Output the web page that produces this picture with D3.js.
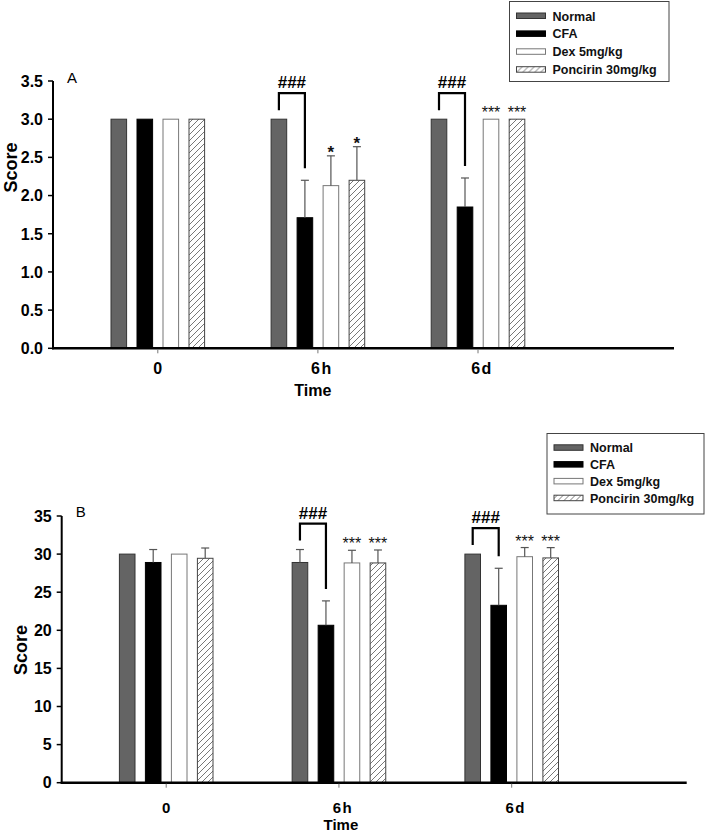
<!DOCTYPE html>
<html>
<head>
<meta charset="utf-8">
<script src="https://cdn.jsdelivr.net/npm/d3@7"></script>
<style>
  html, body { margin: 0; padding: 0; background: #fff; }
  svg { display: block; font-family: "Liberation Sans", Arial, sans-serif; }
</style>
</head>
<body>
<svg id="chart" width="709" height="832"></svg>
<script>
// ---------- data ----------
const categories = ["0", "6h", "6d"];
const series = ["Normal", "CFA", "Dex 5mg/kg", "Poncirin 30mg/kg"];

// Panel A
const aTicks = [0, 0.5, 1.0, 1.5, 2.0, 2.5, 3.0, 3.5];
const aNormal = [3.0, 3.0, 3.0];
const aCFA = [3.0, 1.71, 1.85];
const aDex = [3.0, 2.13, 3.0];
const aPon = [3.0, 2.20, 3.0];
const aNormalErr = [0, 0, 0];
const aCFAErr = [0, 0.49, 0.38];
const aDexErr = [0, 0.39, 0];
const aPonErr = [0, 0.44, 0];
const aStarsDex = ["", "*", "***"];
const aStarsPon = ["", "*", "***"];
const aHash = ["", "###", "###"];

// Panel B
const bTicks = [0, 5, 10, 15, 20, 25, 30, 35];
const bNormal = [30.0, 28.9, 30.0];
const bCFA = [28.9, 20.66, 23.28];
const bDex = [30.0, 28.84, 29.66];
const bPon = [29.45, 28.84, 29.5];
const bNormalErr = [0, 1.7, 0];
const bCFAErr = [1.7, 3.2, 4.86];
const bDexErr = [0, 1.66, 1.2];
const bPonErr = [1.35, 1.7, 1.35];
const bStarsDex = ["", "***", "***"];
const bStarsPon = ["", "***", "***"];
const bHash = ["", "###", "###"];

// ---------- styles ----------
const svg = d3.select("#chart");
const defs = svg.append("defs");
const pat = defs.append("pattern").attr("id", "hatch")
  .attr("patternUnits", "userSpaceOnUse").attr("width", 6).attr("height", 6);
pat.append("rect").attr("width", 6).attr("height", 6).attr("fill", "#fff");
pat.append("path").attr("d", "M-1,1 L1,-1 M0,6 L6,0 M5,7 L7,5")
  .attr("stroke", "#555").attr("stroke-width", 0.8);

const fills = ["#646464", "#000000", "#ffffff", "url(#hatch)"];
const strokes = ["#333333", "#000000", "#777777", "#444444"];

function drawPanel(p) {
  const g = svg.append("g");
  const y = d3.scaleLinear().domain([0, p.yMax]).range([p.y0, p.y1]);
  const x = d3.scalePoint().domain(categories).range([p.c0, p.c2]);
  const inner = d3.scaleBand().domain(series).range([-52, 52])
    .paddingInner(0.4).paddingOuter(0.2);
  const bw = inner.bandwidth();

  const rows = [];
  series.forEach((s, si) => {
    categories.forEach((c, ci) => {
      rows.push({s, si, c, ci, v: p.vals[si][ci], e: p.errs[si][ci]});
    });
  });

  // bars
  g.selectAll("rect.bar").data(rows).enter().append("rect")
    .attr("class", "bar")
    .attr("x", d => x(d.c) + inner(d.s))
    .attr("y", d => y(d.v))
    .attr("width", bw)
    .attr("height", d => y(0) - y(d.v))
    .attr("fill", d => fills[d.si])
    .attr("stroke", d => strokes[d.si])
    .attr("stroke-width", 1);

  // error bars (upper only)
  const er = rows.filter(d => d.e > 0);
  const eg = g.selectAll("g.err").data(er).enter().append("g")
    .attr("stroke", "#555").attr("stroke-width", 1.2);
  eg.append("line")
    .attr("x1", d => x(d.c) + inner(d.s) + bw / 2)
    .attr("x2", d => x(d.c) + inner(d.s) + bw / 2)
    .attr("y1", d => y(d.v)).attr("y2", d => y(d.v + d.e));
  eg.append("line")
    .attr("x1", d => x(d.c) + inner(d.s) + bw / 2 - 4)
    .attr("x2", d => x(d.c) + inner(d.s) + bw / 2 + 4)
    .attr("y1", d => y(d.v + d.e)).attr("y2", d => y(d.v + d.e));

  // stars
  const starRows = [];
  [[2, p.starsDex], [3, p.starsPon]].forEach(([si, arr]) => {
    arr.forEach((t, ci) => {
      if (t) starRows.push({t, si, ci, top: p.vals[si][ci] + p.errs[si][ci]});
    });
  });
  g.selectAll("text.star").data(starRows).enter().append("text")
    .attr("x", d => x(categories[d.ci]) + inner(series[d.si]) + bw / 2)
    .attr("y", d => y(d.top) + (d.t.length === 1 ? 2 : -1))
    .attr("text-anchor", "middle")
    .attr("font-size", d => d.t.length === 1 ? 17 : 16)
    .attr("font-weight", d => d.t.length === 1 ? "bold" : "normal")
    .attr("fill", "#111")
    .text(d => d.t);

  // hash brackets (Normal vs CFA)
  p.hash.forEach((t, ci) => {
    if (!t) return;
    const c = categories[ci];
    const xl = x(c) + inner(series[0]) + bw / 2;
    const xr = x(c) + inner(series[1]) + bw / 2;
    const nTop = y(p.vals[0][ci] + p.errs[0][ci]);
    const cTop = y(p.vals[1][ci] + p.errs[1][ci]);
    const hy = nTop - 26;
    g.append("path")
      .attr("d", `M${xl},${nTop - 9} V${hy} H${xr} V${cTop - 12}`)
      .attr("fill", "none").attr("stroke", "#000").attr("stroke-width", 2.2);
    g.append("text").attr("x", (xl + xr) / 2).attr("y", hy - 5)
      .attr("text-anchor", "middle").attr("font-size", 17).attr("font-weight", "bold")
      .text(t);
  });

  // y axis
  g.append("line").attr("x1", p.x0).attr("x2", p.x0)
    .attr("y1", y(p.yMax)).attr("y2", y(0) + 1)
    .attr("stroke", "#000").attr("stroke-width", 2);
  const yt = g.selectAll("g.yt").data(p.ticks).enter().append("g");
  yt.append("line").attr("x1", p.x0 - 5).attr("x2", p.x0)
    .attr("y1", d => y(d)).attr("y2", d => y(d))
    .attr("stroke", "#000").attr("stroke-width", 1.5);
  yt.append("text").attr("x", p.x0 - 10).attr("y", d => y(d))
    .attr("dy", "0.36em").attr("text-anchor", "end")
    .attr("font-size", 16).attr("font-weight", "bold")
    .text(d => p.fmt(d));

  // x axis
  g.append("line").attr("x1", p.x0 - 1).attr("x2", p.x1)
    .attr("y1", y(0)).attr("y2", y(0))
    .attr("stroke", "#000").attr("stroke-width", 2.5);
  g.selectAll("line.xt").data(categories).enter().append("line")
    .attr("x1", d => x(d)).attr("x2", d => x(d))
    .attr("y1", y(0) + 1).attr("y2", y(0) + 5)
    .attr("stroke", "#777").attr("stroke-width", 1);
  g.selectAll("text.xl").data(categories).enter().append("text")
    .attr("x", (d, i) => x(d) + (i === 0 ? 0 : 4))
    .attr("y", p.xLabelY)
    .attr("text-anchor", "middle").attr("font-size", p.xLabelSize).attr("font-weight", "bold")
    .attr("letter-spacing", (d, i) => i === 0 ? 0 : 1.5)
    .text(d => d);

  // axis titles
  g.append("text").attr("x", x(categories[1]) + p.timeDx).attr("y", p.timeY)
    .attr("text-anchor", "middle").attr("font-size", p.xLabelSize).attr("font-weight", "bold")
    .text("Time");
  g.append("text")
    .attr("transform", `translate(${p.scoreX},${p.scoreY}) rotate(-90)`)
    .attr("text-anchor", "middle").attr("font-size", 18).attr("font-weight", "bold")
    .text("Score");

  // panel letter
  g.append("text").attr("x", p.x0 + 14).attr("y", p.letterY)
    .attr("font-size", 15).text(p.letter);

  // legend
  const lg = g.append("g").attr("transform", `translate(${p.lx},${p.ly})`);
  lg.append("rect").attr("width", p.lw).attr("height", p.lh)
    .attr("fill", "#fff").attr("stroke", "#444").attr("stroke-width", 1);
  series.forEach((s, si) => {
    const by = p.lRow0 + si * p.lStep;
    lg.append("rect").attr("x", 7).attr("y", by - 7.5).attr("width", 29).attr("height", 5.5)
      .attr("fill", fills[si]).attr("stroke", strokes[si]).attr("stroke-width", 1);
    lg.append("text").attr("x", 43).attr("y", by)
      .attr("font-size", 12.5).attr("font-weight", "bold").attr("fill", "#111")
      .text(s);
  });
}

drawPanel({
  letter: "A", letterY: 83,
  yMax: 3.5, ticks: aTicks, fmt: d3.format(".1f"),
  x0: 53, x1: 674, y0: 348.3, y1: 81,
  c0: 157.8, c2: 478,
  vals: [aNormal, aCFA, aDex, aPon],
  errs: [aNormalErr, aCFAErr, aDexErr, aPonErr],
  starsDex: aStarsDex, starsPon: aStarsPon, hash: aHash,
  xLabelY: 374, xLabelSize: 16, timeY: 396, timeDx: -5,
  scoreX: 17, scoreY: 167.5,
  lx: 509.5, ly: 1.5, lw: 159.5, lh: 80, lRow0: 19, lStep: 17.9
});

drawPanel({
  letter: "B", letterY: 517,
  yMax: 35, ticks: bTicks, fmt: d3.format("d"),
  x0: 61.7, x1: 686.7, y0: 782.7, y1: 516,
  c0: 166.2, c2: 511.7,
  vals: [bNormal, bCFA, bDex, bPon],
  errs: [bNormalErr, bCFAErr, bDexErr, bPonErr],
  starsDex: bStarsDex, starsPon: bStarsPon, hash: bHash,
  xLabelY: 813, xLabelSize: 15, timeY: 829.5, timeDx: 2,
  scoreX: 27, scoreY: 650,
  lx: 547, ly: 433.5, lw: 157, lh: 80.5, lRow0: 452.3 - 433.5, lStep: 16.8
});
</script>
</body>
</html>
